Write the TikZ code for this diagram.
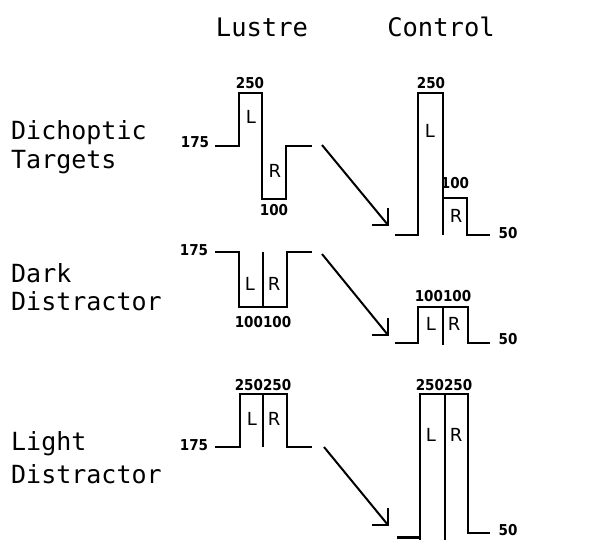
\documentclass[tikz,border=0pt]{standalone}
\usepackage{fontspec}
\setmainfont{DejaVu Sans}
\newfontfamily\labfont{DejaVu Sans Mono}
\newfontfamily\numfont{DejaVu Sans Condensed}
\begin{document}
\begin{tikzpicture}[x=1pt,y=-1pt,
  wave/.style={line width=2.2pt, line join=miter, line cap=butt},
  arr/.style={line width=2pt},
  title/.style={font=\labfont\fontsize{25.5}{28}\selectfont, inner sep=0pt},
  rowlab/.style={font=\labfont\fontsize{25}{28}\selectfont, inner sep=0pt, anchor=base west},
  num/.style={font=\numfont\bfseries\fontsize{15}{17}\selectfont, inner sep=0pt},
  eye/.style={font=\fontsize{18}{20}\selectfont, inner sep=0pt}]
\useasboundingbox (0,0) rectangle (589,539);

% titles
\node[title] (tl) at (262,27) {Lustre};
\node[title] (tc) at (441,27) {Control};

% row labels
\node[rowlab] (r1a) at (11,139) {Dichoptic};
\node[rowlab] (r1b) at (11,168) {Targets};
\node[rowlab] (r2a) at (11,282) {Dark};
\node[rowlab] (r2b) at (11,310) {Distractor};
\node[rowlab] (r3a) at (11,450) {Light};
\node[rowlab] (r3b) at (11,483) {Distractor};

% ---------- Dichoptic targets ----------
\draw[wave] (215,146) -- (239,146) -- (239,93) -- (262,93) -- (262,199) -- (286,199) -- (286,146) -- (312,146);
\node[num] (n1) at (250,83) {250};
\node[num] (n2) at (274,210) {100};
\node[num] (n3) at (195,142) {175};
\node[eye] (e1) at (251,117) {L};
\node[eye] (e2) at (275,171) {R};

\draw[wave] (395,235) -- (418,235) -- (418,93) -- (443,93) -- (443,235);
\draw[wave] (443,198) -- (467,198) -- (467,235) -- (490,235);
\node[num] (n4) at (431,83) {250};
\node[num] (n5) at (455,183) {100};
\node[num] (n6) at (508,233) {50};
\node[eye] (e3) at (430,131) {L};
\node[eye] (e4) at (456,216) {R};

\coordinate (a1s) at (322,145);
\coordinate (a1t) at (388,225);
\draw[arr] (a1s) -- (a1t);
\draw[arr] ([yshift=17pt]a1t) -- (a1t) -- ([xshift=-16pt]a1t);

% ---------- Dark distractor ----------
\draw[wave] (215,252) -- (239,252) -- (239,307) -- (287,307) -- (287,252) -- (312,252);
\draw[wave] (263,252) -- (263,307);
\node[num] (n7) at (194,250) {175};
\node[num] (n8) at (263,322) {100100};
\node[eye] (e5) at (250,284) {L};
\node[eye] (e6) at (274,284) {R};

\draw[wave] (395,343) -- (418,343) -- (418,307) -- (468,307) -- (468,343) -- (490,343);
\draw[wave] (443,307) -- (443,345);
\node[num] (n9) at (443,296) {100100};
\node[num] (n10) at (508,339) {50};
\node[eye] (e7) at (431,324) {L};
\node[eye] (e8) at (454,324) {R};

\coordinate (a2s) at (322,254);
\coordinate (a2t) at (388,335);
\draw[arr] (a2s) -- (a2t);
\draw[arr] ([yshift=17pt]a2t) -- (a2t) -- ([xshift=-16pt]a2t);

% ---------- Light distractor ----------
\draw[wave] (215,447) -- (240,447) -- (240,394) -- (287,394) -- (287,447) -- (312,447);
\draw[wave] (263,394) -- (263,447);
\node[num] (n11) at (263,385) {250250};
\node[num] (n12) at (194,445) {175};
\node[eye] (e9) at (252,419) {L};
\node[eye] (e10) at (274,419) {R};

\draw[wave] (397,537.5) -- (420,537.5);
\draw[wave] (420,540) -- (420,394) -- (468,394) -- (468,533) -- (490,533);
\draw[wave] (445,394) -- (445,540);
\node[num] (n13) at (444,385) {250250};
\node[num] (n14) at (508,530) {50};
\node[eye] (e11) at (431,435) {L};
\node[eye] (e12) at (456,435) {R};

\coordinate (a3s) at (324,447);
\coordinate (a3t) at (388,525);
\draw[arr] (a3s) -- (a3t);
\draw[arr] ([yshift=17pt]a3t) -- (a3t) -- ([xshift=-16pt]a3t);
\end{tikzpicture}
\end{document}
